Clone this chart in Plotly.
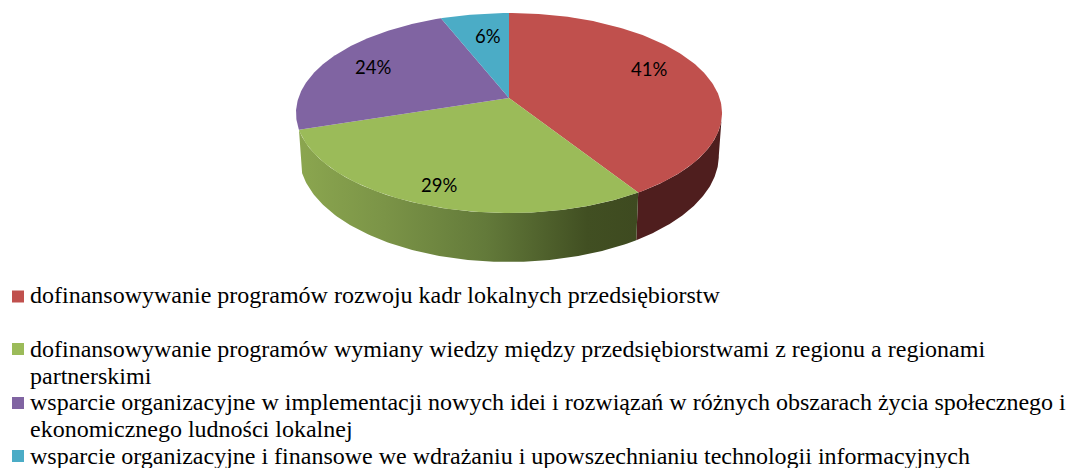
import numpy as np
import plotly.graph_objects as go

# --- data ---
categories = [
    "dofinansowywanie programów rozwoju kadr lokalnych przedsiębiorstw",
    "dofinansowywanie programów wymiany wiedzy między przedsiębiorstwami z regionu a regionami partnerskimi",
    "wsparcie organizacyjne w implementacji nowych idei i rozwiązań w różnych obszarach życia społecznego i ekonomicznego ludności lokalnej",
    "wsparcie organizacyjne i finansowe we wdrażaniu i upowszechnianiu technologii informacyjnych",
]
values = [41, 29, 24, 6]
colors = ["#c0504d", "#9bbb59", "#8064a2", "#4bacc6"]

legend_lines = [
    ["dofinansowywanie programów rozwoju kadr lokalnych przedsiębiorstw"],
    ["dofinansowywanie programów wymiany wiedzy między przedsiębiorstwami z regionu a regionami", "partnerskimi"],
    ["wsparcie organizacyjne w implementacji nowych idei i rozwiązań w różnych obszarach życia społecznego i", "ekonomicznego ludności lokalnej"],
    ["wsparcie organizacyjne i finansowe we wdrażaniu i upowszechnianiu technologii informacyjnych"],
]
legend_y = [[295], [349, 376], [402, 429], [456]]
legend_marker_y = [296.5, 349, 403, 456]

# --- projection of the tilted disc (pixel-space axes) ---
CX, CY, A, B, K, DEPTH, SHRINK = 509, 98, 210.6, 97.75, 0.15, 41.6, 0.985


def project(theta, r=1.0, lower=False):
    u, v = r * np.sin(theta), -r * np.cos(theta)
    s = 1 / (1 - K * v)
    x = CX + A * u * s * (SHRINK if lower else 1)
    y = CY + (B * v + (DEPTH if lower else 0)) * s
    return x, y


fractions = np.array(values) / sum(values)
edges = np.concatenate([[0], np.cumsum(fractions)]) * 2 * np.pi

fig = go.Figure()


def side(t0, t1, **style):
    th = np.linspace(t0, t1, 120)
    x0, y0 = project(th)
    x1, y1 = project(th[::-1], lower=True)
    fig.add_trace(go.Scatter(x=np.r_[x0, x1], y=np.r_[y0, y1], mode="lines", fill="toself",
                             line=dict(width=0), hoverinfo="skip", showlegend=False, **style))


# visible outer wall: red slice from its rightmost rim point, then green with a gradient
side(np.radians(98.6), edges[1], fillcolor="#4f1e1e")
gx0 = project(edges[2])[0]
gx1 = project(edges[1])[0]
side(edges[1], edges[2], fillgradient=dict(
    type="horizontal", start=gx0, stop=gx1,
    colorscale=[[0, "#8ba64f"], [0.25, "#7b9447"], [0.55, "#637a3a"],
                [0.85, "#414f22"], [1, "#3e4a20"]]))

# top face
for i, (name, col) in enumerate(zip(categories, colors)):
    th = np.linspace(edges[i], edges[i + 1], 160)
    x, y = project(th)
    fig.add_trace(go.Scatter(x=np.r_[CX, x, CX], y=np.r_[CY, y, CY], mode="lines", fill="toself",
                             fillcolor=col, line=dict(width=0), name=name, showlegend=False,
                             hovertext=f"{name}: {values[i]}%", hoverinfo="text"))

# percentage labels
label_offset = [(2, -10), (-15, 16), (-8, -3), (4, -1)]
for i, v in enumerate(values):
    x, y = project((edges[i] + edges[i + 1]) / 2, 0.7)
    fig.add_annotation(x=x + label_offset[i][0], y=y + label_offset[i][1], text=f"{v}%", showarrow=False,
                       font=dict(family="Lato", size=18.5, color="#000000"), xanchor="center", yanchor="middle")

# legend
for col, lines, ys, my in zip(colors, legend_lines, legend_y, legend_marker_y):
    fig.add_trace(go.Scatter(x=[18], y=[my], mode="markers", hoverinfo="skip", showlegend=False,
                             marker=dict(symbol="square", size=12, color=col, line=dict(width=0))))
    for line, ly in zip(lines, ys):
        fig.add_annotation(x=28, y=ly, text=line, showarrow=False, xanchor="left", yanchor="middle",
                           font=dict(family="Liberation Serif", size=24, color="#000000"))

fig.update_layout(
    width=1070, height=468, margin=dict(l=0, r=0, t=0, b=0),
    paper_bgcolor="#ffffff", plot_bgcolor="#ffffff", showlegend=False,
    xaxis=dict(range=[0, 1070], visible=False, fixedrange=True),
    yaxis=dict(range=[468, 0], visible=False, fixedrange=True),
)
fig.write_html("out.html", config={"displayModeBar": False, "responsive": False},
               post_script="document.body.style.margin='0';document.body.style.overflow='hidden';")
